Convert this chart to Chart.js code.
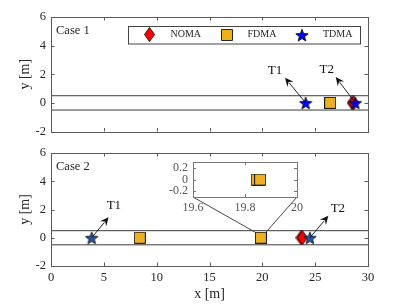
<!DOCTYPE html>
<html><head><meta charset="utf-8">
<script src="https://cdn.jsdelivr.net/npm/chart.js@4"></script>
<style>
body{margin:0;background:#fff}
#wrap{position:relative;width:402px;height:305px;overflow:hidden}
.pane{position:absolute;left:0}
</style></head><body>
<div id="wrap">
  <canvas id="c1" class="pane" width="402" height="144" style="top:0"></canvas>
  <canvas id="c2" class="pane" width="402" height="165" style="top:140px"></canvas>
  <canvas id="c3" class="pane" width="160" height="70" style="left:150px;top:150px"></canvas>
</div>
<script>
// ---------- data ----------
const schemes = ['NOMA', 'FDMA', 'TDMA'];
const xTicks = [0, 5, 10, 15, 20, 25, 30];
const yTicks = [-2, 0, 2, 4, 6];
const insetXTicks = [19.6, 19.8, 20];
const insetYTicks = [-0.2, 0, 0.2];
const roadY = [-0.5, 0.5];
const roadX = [0, 30];

// Case 1 positions
const case1NomaX = [28.5, 28.65];
const case1NomaY = [0, 0];
const case1FdmaX = [26.4, 26.42];
const case1FdmaY = [0, 0];
const case1TdmaX = [24.1, 28.8];
const case1TdmaY = [0, 0];

// Case 2 positions
const case2NomaX = [23.65, 23.8];
const case2NomaY = [0, 0];
const case2FdmaX = [8.4, 19.845, 19.858];
const case2FdmaY = [0, 0, 0];
const case2TdmaX = [3.85, 24.5];
const case2TdmaY = [0, 0];

// annotation arrows: [label, fromX, fromY, headX, headY, textX, textY]
const case1Notes = [['T1', 24.1, 0, 22.15, 1.75, 21.2, 2.25], ['T2', 28.8, 0, 26.95, 1.8, 26.1, 2.3]];
const case2Notes = [['T1', 3.85, 0, 5.45, 1.45, 5.95, 2.3], ['T2', 24.5, 0, 26.25, 1.55, 27.15, 2.1]];
// zoomed region in case 2 (main-axes corners the connector lines go to)
const zoomTarget = [[19.3, 0.4], [20.35, 0.4]];

// ---------- styles ----------
const SERIF = '"Liberation Serif","Times New Roman",serif';
const AX = '#5a5a5a';
const TXT = '#262626';

function makeMarker(shape, fill, w, h) {
  const c = document.createElement('canvas');
  c.width = w; c.height = h;
  const g = c.getContext('2d');
  g.fillStyle = fill; g.strokeStyle = '#111'; g.lineWidth = 0.9;
  g.beginPath();
  if (shape === 'diamond') {
    g.moveTo(w / 2, 0.5); g.lineTo(w - 0.5, h / 2); g.lineTo(w / 2, h - 0.5); g.lineTo(0.5, h / 2);
  } else if (shape === 'square') {
    g.rect(0.5, 0.5, w - 1, h - 1);
  } else {
    const R = w / 2 - 0.5, r = R * 0.42, cx = w / 2, cy = h / 2 + 0.8;
    for (let i = 0; i < 10; i++) {
      const a = -Math.PI / 2 + i * Math.PI / 5;
      const rr = i % 2 ? r : R;
      const px = cx + rr * Math.cos(a), py = cy + rr * Math.sin(a);
      i ? g.lineTo(px, py) : g.moveTo(px, py);
    }
  }
  g.closePath(); g.fill(); g.stroke();
  return c;
}
const mkDiamond = makeMarker('diamond', '#ff0000', 11, 15);
const mkSquare = makeMarker('square', '#edb120', 12, 12);
const mkStar1 = makeMarker('star', '#0000ff', 14, 14);
const mkStar2 = makeMarker('star', '#2356a6', 14, 14);

const pts = (xs, ys) => xs.map((x, i) => ({x, y: ys[i]}));

function datasets(nx, ny, fx, fy, tx, ty, star) {
  return [
    {label: 'road', data: pts(roadX, [roadY[1], roadY[1]]), showLine: true, borderColor: '#3a3a3a', borderWidth: 1, pointRadius: 0, order: 5},
    {label: 'road2', data: pts(roadX, [roadY[0], roadY[0]]), showLine: true, borderColor: '#3a3a3a', borderWidth: 1, pointRadius: 0, order: 5},
    {label: schemes[1], data: pts(fx, fy), pointStyle: mkSquare, showLine: false, order: 3},
    {label: schemes[0], data: pts(nx, ny), pointStyle: mkDiamond, showLine: false, order: 2},
    {label: schemes[2], data: pts(tx, ty), pointStyle: star, showLine: false, order: 1},
  ];
}

// inward tick marks + full box
const boxPlugin = {
  id: 'boxTicks',
  afterDatasetsDraw(chart) {
    const {ctx, chartArea: a, scales: {x, y}} = chart;
    const tl = 3.5;
    ctx.save();
    ctx.strokeStyle = AX; ctx.lineWidth = 1;
    ctx.beginPath();
    x.ticks.forEach(t => {
      const px = Math.round(x.getPixelForValue(t.value)) + 0.5;
      ctx.moveTo(px, a.bottom); ctx.lineTo(px, a.bottom - tl);
      ctx.moveTo(px, a.top); ctx.lineTo(px, a.top + tl);
    });
    y.ticks.forEach(t => {
      const py = Math.round(y.getPixelForValue(t.value)) + 0.5;
      ctx.moveTo(a.left, py); ctx.lineTo(a.left + tl, py);
      ctx.moveTo(a.right, py); ctx.lineTo(a.right - tl, py);
    });
    ctx.stroke();
    ctx.strokeRect(Math.round(a.left) + 0.5, Math.round(a.top) + 0.5, Math.round(a.right - a.left), Math.round(a.bottom - a.top));
    ctx.restore();
  }
};

function drawArrow(ctx, x0, y0, x1, y1) {
  const ang = Math.atan2(y1 - y0, x1 - x0);
  const hl = 8.5, hw = 4;
  const bx = x1 - hl * Math.cos(ang), by = y1 - hl * Math.sin(ang);
  ctx.beginPath(); ctx.moveTo(x0, y0); ctx.lineTo(bx + 2 * Math.cos(ang), by + 2 * Math.sin(ang)); ctx.stroke();
  const nx = -Math.sin(ang), ny = Math.cos(ang);
  ctx.beginPath();
  ctx.moveTo(x1, y1);
  ctx.lineTo(bx + hw * nx, by + hw * ny);
  ctx.lineTo(x1 - 0.65 * hl * Math.cos(ang), y1 - 0.65 * hl * Math.sin(ang));
  ctx.lineTo(bx - hw * nx, by - hw * ny);
  ctx.closePath(); ctx.fill();
}

function notesPlugin(notes, caseLabel) {
  return {
    id: 'notes',
    afterDatasetsDraw(chart) {
      const {ctx, chartArea: a, scales: {x, y}} = chart;
      ctx.save();
      ctx.strokeStyle = '#111'; ctx.fillStyle = '#111'; ctx.lineWidth = 0.9;
      notes.forEach(n => {
        drawArrow(ctx, x.getPixelForValue(n[1]), y.getPixelForValue(n[2]), x.getPixelForValue(n[3]), y.getPixelForValue(n[4]));
        ctx.font = '13px ' + SERIF; ctx.textAlign = 'center'; ctx.textBaseline = 'middle';
        ctx.fillStyle = '#111';
        ctx.fillText(n[0], x.getPixelForValue(n[5]), y.getPixelForValue(n[6]));
      });
      ctx.font = '12.5px ' + SERIF; ctx.textAlign = 'left'; ctx.textBaseline = 'middle'; ctx.fillStyle = TXT;
      ctx.fillText(caseLabel, a.left + 5, a.top + 13.5);
      ctx.restore();
    }
  };
}

const legendPlugin = {
  id: 'legendBox',
  afterDatasetsDraw(chart) {
    const {ctx, chartArea: a} = chart;
    const bx = a.left + 76.5, by = a.top + 8.5, bw = 232, bh = 17.5;
    ctx.save();
    ctx.fillStyle = '#fff'; ctx.fillRect(bx, by, bw, bh);
    ctx.strokeStyle = '#444'; ctx.lineWidth = 1; ctx.strokeRect(Math.round(bx) + 0.5, Math.round(by) + 0.5, bw, bh);
    const cy = by + bh / 2 + 0.5;
    const items = [[mkDiamond, 22, schemes[0]], [mkSquare, 99, schemes[1]], [mkStar1, 174.5, schemes[2]]];
    ctx.font = '10px ' + SERIF; ctx.textBaseline = 'middle'; ctx.textAlign = 'left'; ctx.fillStyle = TXT;
    items.forEach(([img, ox, lab]) => {
      ctx.drawImage(img, Math.round(bx + ox - img.width / 2), Math.round(cy - img.height / 2));
      ctx.fillText(lab, bx + ox + 21, cy);
    });
    ctx.restore();
  }
};

function setTicks(arr) { return s => { s.ticks = arr.map(v => ({value: v})); }; }

function mainOptions(showX, xH, bottomPad) {
  return {
    responsive: false, animation: false,
    layout: {padding: {left: 17, right: 34, top: showX ? 13 : 17, bottom: bottomPad}},
    plugins: {legend: {display: false}, tooltip: {enabled: false}},
    elements: {point: {radius: 6}},
    scales: {
      x: {
        type: 'linear', min: 0, max: 30,
        afterBuildTicks: setTicks(xTicks),
        afterFit: s => { s.height = xH; },
        grid: {display: false, drawTicks: false},
        border: {display: false},
        ticks: {display: showX, color: TXT, padding: 4, font: {family: SERIF, size: 12.5}},
        title: {display: showX, text: 'x [m]', color: TXT, padding: 0, font: {family: SERIF, size: 14}}
      },
      y: {
        type: 'linear', min: -2, max: 6,
        afterBuildTicks: setTicks(yTicks),
        afterFit: s => { s.width = 34; },
        grid: {display: false, drawTicks: false},
        border: {display: false},
        ticks: {color: TXT, padding: 5, font: {family: SERIF, size: 12.5}},
        title: {display: true, text: 'y [m]', color: TXT, padding: 0, font: {family: SERIF, size: 14}}
      }
    }
  };
}

new Chart(document.getElementById('c1'), {
  type: 'scatter',
  data: {datasets: datasets(case1NomaX, case1NomaY, case1FdmaX, case1FdmaY, case1TdmaX, case1TdmaY, mkStar1)},
  options: mainOptions(false, 1, 0),
  plugins: [notesPlugin(case1Notes, 'Case 1'), legendPlugin, boxPlugin]
});

let insetChart;
const connectorPlugin = {
  id: 'connector',
  afterDatasetsDraw(chart) {
    if (!insetChart) return;
    const {ctx, scales: {x, y}} = chart;
    const ia = insetChart.chartArea;
    const c2 = chart.canvas, c3 = insetChart.canvas;
    const dx = c3.offsetLeft - c2.offsetLeft, dy = c3.offsetTop - c2.offsetTop;
    ctx.save();
    ctx.strokeStyle = '#333'; ctx.lineWidth = 0.9;
    ctx.beginPath();
    ctx.moveTo(dx + ia.left, dy + ia.bottom);
    ctx.lineTo(x.getPixelForValue(zoomTarget[0][0]), y.getPixelForValue(zoomTarget[0][1]));
    ctx.moveTo(dx + ia.right, dy + ia.bottom);
    ctx.lineTo(x.getPixelForValue(zoomTarget[1][0]), y.getPixelForValue(zoomTarget[1][1]));
    ctx.stroke();
    ctx.restore();
  }
};

insetChart = new Chart(document.getElementById('c3'), {
  type: 'scatter',
  data: {datasets: [{label: schemes[1], data: pts(case2FdmaX, case2FdmaY), pointStyle: mkSquare, clip: 0}]},
  options: {
    responsive: false, animation: false,
    layout: {padding: {left: 0, right: 13, top: 12, bottom: 0}},
    plugins: {legend: {display: false}, tooltip: {enabled: false}},
    scales: {
      x: {
        type: 'linear', min: 19.6, max: 20,
        afterBuildTicks: setTicks(insetXTicks),
        afterFit: s => { s.height = 23; },
        grid: {display: false, drawTicks: false}, border: {display: false},
        ticks: {color: '#555', padding: 4, font: {family: SERIF, size: 12}, callback: v => String(Math.round(v * 10) / 10)}
      },
      y: {
        type: 'linear', min: -0.3, max: 0.3,
        afterBuildTicks: setTicks(insetYTicks),
        afterFit: s => { s.width = 43; },
        grid: {display: false, drawTicks: false}, border: {display: false},
        ticks: {color: '#555', padding: 5, font: {family: SERIF, size: 12}, callback: v => String(Math.round(v * 10) / 10)}
      }
    }
  },
  plugins: [{
    id: 'insetBg',
    beforeDatasetsDraw(chart) {
      const {ctx, chartArea: a} = chart;
      ctx.save(); ctx.fillStyle = '#fff'; ctx.fillRect(a.left, a.top, a.right - a.left, a.bottom - a.top); ctx.restore();
    }
  }, {
    id: 'insetBox',
    afterDatasetsDraw(chart) {
      const {ctx, chartArea: a, scales: {x, y}} = chart;
      ctx.save(); ctx.strokeStyle = '#777'; ctx.lineWidth = 1;
      ctx.beginPath();
      x.ticks.forEach(t => { const px = Math.round(x.getPixelForValue(t.value)) + 0.5; ctx.moveTo(px, a.top); ctx.lineTo(px, a.top + 3); ctx.moveTo(px, a.bottom); ctx.lineTo(px, a.bottom - 3); });
      y.ticks.forEach(t => { const py = Math.round(y.getPixelForValue(t.value)) + 0.5; ctx.moveTo(a.left, py); ctx.lineTo(a.left + 3, py); ctx.moveTo(a.right, py); ctx.lineTo(a.right - 3, py); });
      ctx.stroke();
      ctx.strokeRect(Math.round(a.left) + 0.5, Math.round(a.top) + 0.5, Math.round(a.right - a.left), Math.round(a.bottom - a.top));
      ctx.restore();
    }
  }]
});

new Chart(document.getElementById('c2'), {
  type: 'scatter',
  data: {datasets: datasets(case2NomaX, case2NomaY, case2FdmaX, case2FdmaY, case2TdmaX, case2TdmaY, mkStar2)},
  options: mainOptions(true, 37, 2),
  plugins: [notesPlugin(case2Notes, 'Case 2'), connectorPlugin, boxPlugin]
});
</script>
</body></html>
